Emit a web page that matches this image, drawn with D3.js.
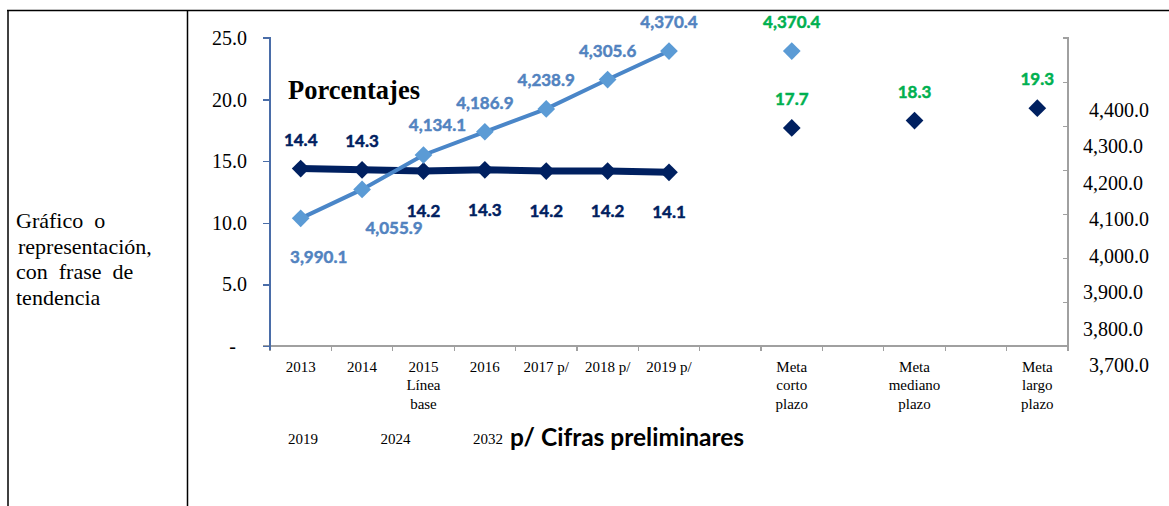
<!DOCTYPE html>
<meta charset="utf-8">

<script src="https://d3js.org/d3.v7.min.js"></script>

<style type="text/css">

body {
  margin: 0;
  background: white;
}

text {
  white-space: pre;
}

.serif {
  font-family: "Liberation Serif", "Times New Roman", serif;
  fill: #000;
}

.axis path,
.axis line {
  shape-rendering: crispEdges;
}

.dataLabel {
  font-family: Lato, "Open Sans", sans-serif;
  font-weight: bold;
  font-size: 17px;
  text-anchor: middle;
  stroke-width: 0.45px;
}

</style>

<body>
  <div id="chart"></div>
</body>

<script>

  // ---------------------------//
  //            DATA            //
  // ---------------------------//

  // categories (empty strings are the blank slots between the goals)
  const categories = ["2013", "2014", "2015\nLínea\nbase", "2016", "2017 p/", "2018 p/", "2019 p/",
                      "", "Meta\ncorto\nplazo", "", "Meta\nmediano\nplazo", "", "Meta\nlargo\nplazo"];

  // percentage series (left axis)
  const porcentajes = [14.4, 14.3, 14.2, 14.3, 14.2, 14.2, 14.1, null, 17.7, null, 18.3, null, 19.3];

  // absolute series (right axis)
  const valores = [3990.1, 4055.9, 4134.1, 4186.9, 4238.9, 4305.6, 4370.4, null, 4370.4, null, null, null, null];

  const leftTicks = [0, 5, 10, 15, 20, 25];
  const rightTicks = [3700, 3800, 3900, 4000, 4100, 4200, 4300, 4400];

  const sideText = ["Gráfico  o", "representación,", "con  frase  de", "tendencia"];
  const yearNotes = ["2019", "2024", "2032"];

  // ---------------------------//
  //           LAYOUT           //
  // ---------------------------//

  const outerWidth = 1169;
  const outerHeight = 506;
  const plot = {left: 270, right: 1068, top: 38, bottom: 346};

  const darkBlue = "#002060";
  const lightBlue = "#5B9BD5";
  const lineBlue = "#4A86C8";
  const labelBlue = "#5283C0";
  const green = "#00B050";

  const SVG = d3.select("#chart").append("svg")
    .attr("width", outerWidth)
    .attr("height", outerHeight);

  SVG.append("rect")
    .attr("width", outerWidth)
    .attr("height", outerHeight)
    .attr("fill", "white");

  // table borders
  SVG.append("line").attr("x1", 7).attr("x2", outerWidth).attr("y1", 10.5).attr("y2", 10.5)
    .attr("stroke", "#000").attr("stroke-width", 1.5);
  SVG.append("line").attr("x1", 8).attr("x2", 8).attr("y1", 10).attr("y2", outerHeight)
    .attr("stroke", "#000").attr("stroke-width", 1.5);
  SVG.append("line").attr("x1", 187.5).attr("x2", 187.5).attr("y1", 10).attr("y2", outerHeight)
    .attr("stroke", "#000").attr("stroke-width", 1.5);

  // left column text
  SVG.selectAll(".sideText")
    .data(sideText)
    .enter()
    .append("text")
    .attr("class", "serif sideText")
    .attr("x", (d, i) => i == 1 ? 18 : 16)
    .attr("y", (d, i) => 228 + i * 25.7)
    .style("font-size", "22px")
    .text(d => d);

  // ---------------------------//
  //           SCALES           //
  // ---------------------------//

  const x = d3.scaleBand()
    .domain(d3.range(categories.length))
    .range([plot.left, plot.right]);

  const yLeft = d3.scaleLinear()
    .domain([0, 25])
    .range([plot.bottom, plot.top]);

  const yRight = d3.scaleLinear()
    .domain([3700, 4400])
    .range([plot.bottom, plot.top]);

  // the right axis labels sit loosely next to the axis in the original
  const yRightLabel = d3.scaleLinear()
    .domain([3700, 4400])
    .range([372, 117]);

  const cx = i => x(i) + x.bandwidth() / 2;

  // ---------------------------//
  //            AXES            //
  // ---------------------------//

  // x axis
  const xAxis = SVG.append("g")
    .attr("class", "axis")
    .attr("transform", "translate(0," + plot.bottom + ")");

  xAxis.append("line")
    .attr("x1", plot.left - 7).attr("x2", plot.right)
    .attr("stroke", "#A0A0A0").attr("stroke-width", 2);

  xAxis.selectAll(".xtick")
    .data(d3.range(categories.length + 1))
    .enter()
    .append("line")
    .attr("class", "xtick")
    .attr("x1", i => i < categories.length ? x(i) : plot.right)
    .attr("x2", i => i < categories.length ? x(i) : plot.right)
    .attr("y1", 0).attr("y2", 5)
    .attr("stroke", "#A0A0A0").attr("stroke-width", 1.2);

  const xLabels = xAxis.selectAll(".xlabel")
    .data(categories)
    .enter()
    .append("text")
    .attr("class", "serif xlabel")
    .attr("text-anchor", "middle")
    .attr("y", 26)
    .style("font-size", "15px");

  xLabels.selectAll("tspan")
    .data((d, i) => d.split("\n").map(t => ({t: t, i: i})))
    .enter()
    .append("tspan")
    .attr("x", d => cx(d.i))
    .attr("dy", (d, j) => j == 0 ? 0 : 18.3)
    .text(d => d.t);

  // left axis
  const leftAxis = SVG.append("g")
    .attr("class", "axis left")
    .attr("transform", "translate(" + plot.left + ",0)")
    .call(d3.axisLeft(yLeft)
      .tickValues(leftTicks)
      .tickSize(7)
      .tickPadding(16)
      .tickFormat(d => d == 0 ? "-" : d3.format(".1f")(d)));

  leftAxis.select(".domain")
    .attr("fill", "none")
    .attr("stroke", "#4A6DA8")
    .attr("stroke-width", 2)
    .attr("d", "M-7," + plot.top + "H0V" + (plot.bottom + 4));
  leftAxis.selectAll(".tick line").attr("stroke", "#4A6DA8").attr("stroke-width", 1.5);
  leftAxis.selectAll(".tick text")
    .attr("fill", "#000")
    .style("font-family", "'Liberation Serif', serif")
    .style("font-size", "20px")
    .attr("dx", d => d == 0 ? -11 : 0);

  // right axis
  const rightAxis = SVG.append("g")
    .attr("class", "axis right")
    .attr("transform", "translate(" + plot.right + ",0)")
    .call(d3.axisLeft(yRight)
      .tickValues(rightTicks)
      .tickSize(5)
      .tickFormat(""));

  rightAxis.select(".domain")
    .attr("fill", "none")
    .attr("stroke", "#A0A0A0")
    .attr("stroke-width", 2)
    .attr("d", "M-5," + plot.top + "H0V" + (plot.bottom + 5));
  rightAxis.selectAll(".tick line").attr("stroke", "#A0A0A0").attr("stroke-width", 1.5);

  SVG.selectAll(".rightLabel")
    .data(rightTicks)
    .enter()
    .append("text")
    .attr("class", "serif rightLabel")
    .attr("x", (d, i) => (d == 4300 || d == 4200 || d == 3900 || d == 3800) ? 1083 : 1089)
    .attr("y", d => yRightLabel(d))
    .style("font-size", "20px")
    .text(d => d3.format(",.1f")(d));

  // ---------------------------//
  //           SERIES           //
  // ---------------------------//

  const pctPoints = porcentajes.map((v, i) => ({i: i, v: v}));
  const valPoints = valores.map((v, i) => ({i: i, v: v}));

  const isMeta = i => categories[i].startsWith("Meta");

  const pctLine = d3.line()
    .defined(d => d.v != null && !isMeta(d.i))
    .x(d => cx(d.i))
    .y(d => yLeft(d.v));

  const valLine = d3.line()
    .defined(d => d.v != null && !isMeta(d.i))
    .x(d => cx(d.i))
    .y(d => yRight(d.v));

  const diamond = d3.symbol().type(d3.symbolDiamond2).size(200);

  // percentages (dark)
  SVG.append("path")
    .datum(pctPoints)
    .attr("d", pctLine)
    .attr("fill", "none")
    .attr("stroke", darkBlue)
    .attr("stroke-width", 7);

  SVG.selectAll(".pctMark")
    .data(pctPoints.filter(d => d.v != null))
    .enter()
    .append("path")
    .attr("class", "pctMark")
    .attr("d", diamond)
    .attr("transform", d => "translate(" + cx(d.i) + "," + yLeft(d.v) + ")")
    .attr("fill", darkBlue);

  // values (light)
  SVG.append("path")
    .datum(valPoints)
    .attr("d", valLine)
    .attr("fill", "none")
    .attr("stroke", lineBlue)
    .attr("stroke-width", 4);

  SVG.selectAll(".valMark")
    .data(valPoints.filter(d => d.v != null))
    .enter()
    .append("path")
    .attr("class", "valMark")
    .attr("d", diamond)
    .attr("transform", d => "translate(" + cx(d.i) + "," + yRight(d.v) + ")")
    .attr("fill", lightBlue);

  // ---------------------------//
  //           LABELS           //
  // ---------------------------//

  SVG.selectAll(".pctLabel")
    .data(pctPoints.filter(d => d.v != null))
    .enter()
    .append("text")
    .attr("class", "dataLabel pctLabel")
    .attr("x", d => cx(d.i))
    .attr("y", d => yLeft(d.v) + ((d.i < 2 || isMeta(d.i)) ? -23 : 46))
    .attr("fill", d => isMeta(d.i) ? green : darkBlue)
    .attr("stroke", d => isMeta(d.i) ? green : darkBlue)
    .text(d => d3.format(".1f")(d.v));

  const valOffset = i => i == 0 ? [18, 45] : i == 1 ? [32, 45] : i == 2 ? [14, -24] : [0, -23];

  SVG.selectAll(".valLabel")
    .data(valPoints.filter(d => d.v != null))
    .enter()
    .append("text")
    .attr("class", "dataLabel valLabel")
    .attr("x", d => cx(d.i) + valOffset(d.i)[0])
    .attr("y", d => yRight(d.v) + valOffset(d.i)[1])
    .attr("fill", d => isMeta(d.i) ? green : labelBlue)
    .attr("stroke", d => isMeta(d.i) ? green : labelBlue)
    .text(d => d3.format(",.1f")(d.v));

  // ---------------------------//
  //           TITLES           //
  // ---------------------------//

  SVG.append("text")
    .attr("class", "serif")
    .attr("x", 288)
    .attr("y", 99)
    .style("font-size", "26.5px")
    .style("font-weight", "bold")
    .text("Porcentajes");

  SVG.selectAll(".yearNote")
    .data(yearNotes)
    .enter()
    .append("text")
    .attr("class", "serif yearNote")
    .attr("x", (d, i) => 288 + i * 92.5)
    .attr("y", 444)
    .style("font-size", "15px")
    .text(d => d);

  SVG.append("text")
    .attr("x", 510)
    .attr("y", 446)
    .style("font-family", "Lato, 'Open Sans', sans-serif")
    .style("font-weight", "bold")
    .style("font-size", "24.5px")
    .attr("fill", "#000")
    .text("p/ Cifras preliminares");

</script>
